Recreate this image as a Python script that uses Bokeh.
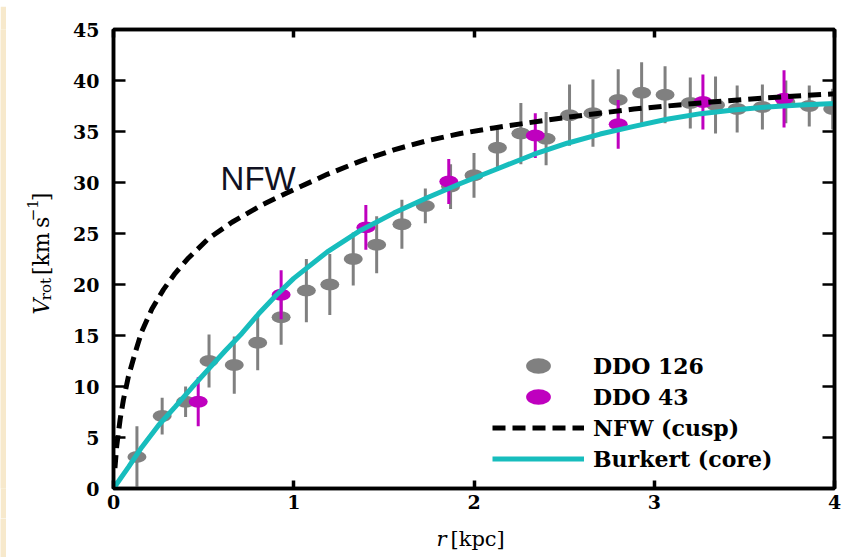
import math
from bokeh.plotting import figure
from bokeh.layouts import row, column
from bokeh.models import (ColumnDataSource, Range1d, FixedTicker, LinearAxis,
                          Legend, LegendItem, Label)
from bokeh.embed import file_html
from bokeh.resources import INLINE

# ---------------- data ----------------
ddo126_r = [0.13, 0.27, 0.40, 0.53, 0.67, 0.80, 0.93, 1.07, 1.20, 1.33,
            1.46, 1.60, 1.73, 1.87, 2.00, 2.13, 2.26, 2.40, 2.53, 2.66,
            2.80, 2.93, 3.06, 3.20, 3.34, 3.46, 3.60, 3.73, 3.86, 3.99]
ddo126_v = [3.1, 7.1, 8.5, 12.5, 12.1, 14.3, 16.8, 19.4, 20.0, 22.5,
            23.9, 25.9, 27.7, 29.6, 30.7, 33.4, 34.8, 34.3, 36.6, 36.8,
            38.1, 38.8, 38.6, 37.8, 37.6, 37.2, 37.4, 37.9, 37.5, 37.2]
ddo126_err = [3.0, 1.8, 1.5, 2.6, 2.8, 2.7, 2.7, 3.1, 3.0, 2.6,
              2.8, 2.4, 1.7, 2.2, 2.2, 2.1, 3.0, 2.6, 3.0, 3.3,
              3.0, 3.0, 2.8, 2.5, 2.8, 2.3, 2.2, 2.1, 2.0, 2.0]

ddo43_r = [0.47, 0.93, 1.40, 1.86, 2.34, 2.80, 3.27, 3.72]
ddo43_v = [8.5, 19.0, 25.6, 30.1, 34.6, 35.7, 37.9, 38.2]
ddo43_err = [2.4, 2.4, 2.2, 2.2, 2.2, 2.4, 2.7, 2.8]

nfw_r = [0.008, 0.018, 0.037, 0.055, 0.083, 0.12, 0.157, 0.213, 0.277, 0.342,
         0.416, 0.527, 0.657, 0.823, 1.0, 1.186, 1.37, 1.555, 1.74, 1.925,
         2.11, 2.26, 2.517, 2.887, 3.257, 3.627, 4.0]
nfw_v = [2.0, 4.2, 6.8, 8.7, 11.0, 13.3, 15.4, 17.6, 19.5, 21.1,
         22.6, 24.5, 26.1, 27.8, 29.3, 30.8, 32.1, 33.2, 34.1, 34.8,
         35.35, 35.75, 36.4, 37.2, 37.8, 38.3, 38.7]

bur_r = [0.0, 0.083, 0.157, 0.25, 0.342, 0.435, 0.527, 0.62, 0.712, 0.804,
         0.9, 1.0, 1.186, 1.37, 1.555, 1.74, 1.925, 2.11, 2.33, 2.517,
         2.70, 2.887, 3.07, 3.257, 3.44, 3.627, 3.81, 4.0]
bur_v = [0.0, 2.1, 4.05, 6.2, 8.0, 9.9, 11.7, 13.5, 15.2, 17.1,
         18.9, 20.6, 23.2, 25.3, 27.0, 28.5, 29.9, 31.2, 32.75, 33.85,
         34.75, 35.5, 36.2, 36.75, 37.1, 37.4, 37.6, 37.75]

x_ticks = [0, 1, 2, 3, 4]
y_ticks = [0, 5, 10, 15, 20, 25, 30, 35, 40, 45]
legend_labels = ["DDO 126", "DDO 43", "NFW (cusp)", "Burkert (core)"]

GREY = "#808080"
MAGENTA = "#BF00BF"
CYAN = "#17BDBD"
CREAM = "#F7E9CC"
SERIF = "DejaVu Serif"

PAGE_W, PAGE_H = 852, 557
STRIP = 6
YL_W = 64
MAIN_W = PAGE_W - STRIP - YL_W          # 782
MAIN_H = 512
XL_H = PAGE_H - STRIP - MAIN_H          # 39


def blank(w, h, color="white"):
    f = figure(width=w, height=h, x_range=Range1d(0, w), y_range=Range1d(0, h),
               x_axis_type=None, y_axis_type=None, min_border=0,
               output_backend="svg", toolbar_location=None)
    f.outline_line_color = None
    f.background_fill_color = color
    f.border_fill_color = color
    return f


p = figure(width=MAIN_W, height=MAIN_H, x_range=Range1d(0, 4), y_range=Range1d(0, 45),
           output_backend="svg", toolbar_location=None,
           min_border_left=43, min_border_right=18,
           min_border_top=23, min_border_bottom=30)
p.xgrid.visible = False
p.ygrid.visible = False
p.outline_line_color = "black"
p.outline_line_width = 3.5
p.background_fill_color = "white"
p.border_fill_color = "white"


def style_axis(ax, ticks, tick_in, tick_w, show_labels, standoff):
    ax.ticker = FixedTicker(ticks=ticks)
    ax.minor_tick_line_color = None
    ax.major_tick_in = tick_in
    ax.major_tick_out = 0
    ax.major_tick_line_width = tick_w
    ax.major_tick_line_color = "black"
    ax.axis_line_width = 3.5
    ax.axis_line_color = "black"
    if show_labels:
        ax.major_label_text_font = SERIF
        ax.major_label_text_font_style = "bold"
        ax.major_label_text_font_size = "19px"
        ax.major_label_text_color = "black"
        ax.major_label_standoff = standoff
    else:
        ax.major_label_text_font_size = "1px"
        ax.major_label_text_color = None
        ax.major_label_standoff = 0


style_axis(p.xaxis[0], x_ticks, 8, 3.5, True, 6)
style_axis(p.yaxis[0], y_ticks, 12, 2.5, True, 14)
top_ax = LinearAxis()
right_ax = LinearAxis()
style_axis(top_ax, x_ticks, 8, 3.5, False, 0)
style_axis(right_ax, y_ticks, 12, 2.5, False, 0)
p.add_layout(top_ax, "above")
p.add_layout(right_ax, "right")

s126 = ColumnDataSource(dict(r=ddo126_r, v=ddo126_v,
                             lo=[v - e for v, e in zip(ddo126_v, ddo126_err)],
                             hi=[v + e for v, e in zip(ddo126_v, ddo126_err)]))
s43 = ColumnDataSource(dict(r=ddo43_r, v=ddo43_v,
                            lo=[v - e for v, e in zip(ddo43_v, ddo43_err)],
                            hi=[v + e for v, e in zip(ddo43_v, ddo43_err)]))

p.segment(x0="r", y0="lo", x1="r", y1="hi", source=s126, line_color=GREY, line_width=3)
g126 = p.ellipse(x="r", y="v", width=19, height=12, width_units="screen",
                 height_units="screen", source=s126, fill_color=GREY, line_color=None)
p.segment(x0="r", y0="lo", x1="r", y1="hi", source=s43, line_color=MAGENTA, line_width=3)
g43 = p.ellipse(x="r", y="v", width=19, height=12, width_units="screen",
                height_units="screen", source=s43, fill_color=MAGENTA, line_color=None)

gbur = p.line(bur_r, bur_v, line_color=CYAN, line_width=5)
gnfw = p.line(nfw_r, nfw_v, line_color="black", line_width=5, line_dash="13 7")

legend = Legend(items=[LegendItem(label=legend_labels[0], renderers=[g126]),
                       LegendItem(label=legend_labels[1], renderers=[g43]),
                       LegendItem(label=legend_labels[2], renderers=[gnfw]),
                       LegendItem(label=legend_labels[3], renderers=[gbur])],
                location=(379, 14))
legend.glyph_width = 92
legend.glyph_height = 31
legend.label_standoff = 9
legend.spacing = 0
legend.padding = 0
legend.margin = 0
legend.border_line_color = None
legend.background_fill_alpha = 0
legend.label_text_font = SERIF
legend.label_text_font_style = "bold"
legend.label_text_font_size = "22px"
legend.label_text_color = "black"
p.add_layout(legend, "center")

# in-plot annotation
p.add_layout(Label(x=0.594, y=30.4, text="NFW", text_font="Liberation Sans",
                   text_font_size="33px", text_color="#111122",
                   text_baseline="alphabetic", text_align="left"))

# ---------------- y axis title panel (composed, rotated) ----------------
yl = blank(YL_W, MAIN_H)


def ylab(x, y, txt, size, style="normal"):
    yl.add_layout(Label(x=x, y=y, text=txt, angle=math.pi / 2, text_font=SERIF,
                        text_font_size=size, text_font_style=style,
                        text_color="black", text_align="left",
                        text_baseline="alphabetic"))


ylab(35, 194, "V", "22px", "italic")
ylab(39, 210, "rot", "15px")
ylab(35, 238, "[km\u2009s", "22px")
ylab(26, 298, "\u22121", "15px")
ylab(35, 320.5, "]", "22px")

# ---------------- x axis title panel (composed) ----------------
xl = blank(PAGE_W - STRIP, XL_H)
xl.add_layout(Label(x=430, y=19, text="r", text_font=SERIF, text_font_size="21px",
                    text_font_style="italic", text_color="black",
                    text_baseline="alphabetic", text_align="left"))
xl.add_layout(Label(x=444, y=19, text="[kpc]", text_font=SERIF, text_font_size="21px",
                    text_color="black", text_baseline="alphabetic", text_align="left"))

# cream page edge, as in the reference image
top_strip = blank(PAGE_W, STRIP, CREAM)
left_strip = blank(STRIP, MAIN_H, CREAM)
left_strip2 = blank(STRIP, XL_H, CREAM)

layout = column(top_strip,
                row(left_strip, yl, p, spacing=0),
                row(left_strip2, xl, spacing=0),
                spacing=0)

open("out.html", "w").write(file_html(layout, INLINE))
